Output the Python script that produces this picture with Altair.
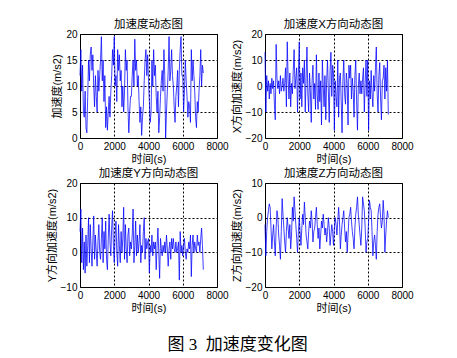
import altair as alt
import pandas as pd

# sample times (s), one value every 50 s from 0 to 7200
time_s = [i * 50 for i in range(145)]

acc_total = [
    12, 17, 9, 14, 5, 4, 9, 2, 1, 8, 15, 11, 16, 17.5, 13, 16, 10, 6, 12, 8,
    5, 13, 9, 12, 15, 19.5, 11, 15, 7, 12, 2, 6, 1.5, 5, 8, 4, 9, 12, 17, 14,
    19.5, 10, 12, 7, 17, 13, 16, 11, 13, 6, 10, 5, 9, 17, 13, 15, 6, 1, 5, 8,
    8, 12, 15, 10, 19, 13, 15, 10, 12, 7, 3, 6, 0.5, 4, 6, 11, 15, 17, 12, 16,
    11, 7, 3, 5, 15, 10, 17, 12, 14, 8, 5, 9, 1, 4, 8, 11, 13, 9, 17, 12,
    0, 5, 9, 13, 19.5, 11, 13, 17, 12, 10, 6, 3, 8, 10, 13, 6, 13, 17, 19.5, 12,
    12, 5, 9, 15, 11, 8, 4, 7, 6, 3, 17, 11, 15, 12, 9, 4, 2, 7, 5, 9,
    12, 17, 10, 14, 12.5,
]

acc_x = [
    13, -10, 4, -2, 2, -5, 1, -3, 3, -1, 2, -7, -13, 16, 3, -1, 2, -3, 4, -2,
    0, 3, -2, 1, 7, -8, 17, 3, -5, 5, -8, 1, -3, 6, 14, -1, 3, 7, -10, 5,
    17, -5, 5, -8, 7, 1, 10, -10, 3, 15, -3, -10, 5, -2, -14, 2, 8, -5, 1, -9,
    12, -3, -9, 5, -6, 2, -15, 10, 0, -8, 4, -13, 2, 10, -2, -14, 6, 13, -4, 8,
    5, -17, 2, -4, -8, 10, -12, 3, 5, -6, -18, 2, 10, -3, -7, 5, 1, -15, 8, 3,
    8, -5, 3, -2, -12, 4, 10, -6, -17, 0, 5, -3, 2, -3, 3, 7, -10, 1, 10, -4,
    10, -17, 2, -5, 6, -3, -8, 4, -2, 7, 15, -3, -10, 4, 9, -5, -13, 2, 3, 8,
    -5, 7, -2, 10, -11,
]

acc_y = [
    6, 12.5, -3, 7, -5, 3, -6, 5, -4, 2, 10, -3, 8, 1, -4, 3, 10.5, -2, 5, 0,
    -4, 3, 8, 0, -2, 4, 10, -3, 6, 1, 9, -2, -5, 4, 11, 3, -1, 7, 12, 2,
    -3, 5, 9, 0, -4, 8, 2, -3, 6, 0, 4, 13, -2, 8, 1, -3, 5, 7, -1, 3,
    1, 5, 12.5, -3, 2, 9, -1, 5, 0, 3, 8, -3, 2, 0, 6, 10, -2, 4, 1, 3,
    4, -6, 2, 0, 5, -1, 3, 1, 3, -5, 2, 7, 0, -7.5, 4, 1, -1, 2, 0, 3,
    0, 5, 1, -4, 1, 3, -2, 4, 1, 4, 1, 0, 3, 0, 1, 3, -8, 6, 0, 2,
    -1, 2, 4, 0, -2, 1, 0, 3, 1, 5, -7, 2, 5, 0, 3, 1, 0, 5, 2, 3,
    0, 4, 7, 2, -5,
]

acc_z = [
    -2, -11, -4, 0, 2, 4, 3, -3, -9, -5, -2, -7, -11, -3, 2, 0, -5, -8, -12, -4,
    5.5, 1, -3, -7, -10, -4, 0, -3, -6, -2, -9, -5, 3, -1, 6, 2, -2, -6, -10, -4,
    0, -4, -8, -3, 1, -2, 4.5, 0, -5, -7, -9, -4, -1, -3, 2, -1, -7, -4, -3, 0,
    3, -2, -6, -3, -9, -5, -1, -3, 1, -2, -5, -3, -7, -4, 0, -3, -8, -5, -2, -4,
    -8, -3, 0, -2, -5, -1, 3, -1, -9, -5, -2, 0, 2, -3, -7, -4, -10, -5, 0, 1,
    3, -1, -4, -6, -9, -3, 1, 3, 6, 1, -2, -5, -8, -3, 6, 4, 2, -3, -10, -7,
    -6, -1, 5, 3, 2, -4, -11, -7, -5, -8, -12, -4, 1, 3, 4, 0, -3, -1, 5, 1,
    -10, -5, -1, 2, 0,
]

x_ticks = [0, 2000, 4000, 6000, 8000]
titles = ["加速度动态图", "加速度X方向动态图", "加速度Y方向动态图", "加速度Z方向动态图"]
y_titles = ["加速度(m/s2)", "X方向加速度(m/s2)", "Y方向加速度(m/s2)", "Z方向加速度(m/s2)"]
y_domains = [[0, 20], [-20, 20], [-10, 20], [-20, 10]]
y_ticks = [[0, 5, 10, 15, 20], [-20, -10, 0, 10, 20], [-10, 0, 10, 20], [-20, -10, 0, 10]]
x_title = "时间(s)"
caption = "图 3\u00a0 加速度变化图"

FONT = "Liberation Sans, Noto Sans CJK SC"


def panel(vals, title, ytitle, ydom, yt):
    df = pd.DataFrame({"t": time_s, "v": vals})
    return (
        alt.Chart(df, title=alt.TitleParams(title, fontSize=11.5, fontWeight="normal",
                                            font=FONT, color="black", offset=-1))
        .mark_line(color="#0000ff", strokeWidth=0.75)
        .encode(
            x=alt.X("t:Q", scale=alt.Scale(domain=[0, 8000], nice=False, zero=False),
                    axis=alt.Axis(values=x_ticks, format="d", title=x_title,
                                  titlePadding=2, labelFlush=False)),
            y=alt.Y("v:Q", scale=alt.Scale(domain=ydom, nice=False, zero=False),
                    axis=alt.Axis(values=yt, format="d", title=ytitle,
                                  titlePadding=3, labelFlush=False)),
        )
        .properties(width=137, height=104)
    )


series = [acc_total, acc_x, acc_y, acc_z]
panels = [panel(series[i], titles[i], y_titles[i], y_domains[i], y_ticks[i]) for i in range(4)]

chart = (
    alt.concat(*panels, columns=2, spacing={"row": 45, "column": 48}, bounds="flush")
    .properties(
        title=alt.TitleParams(caption, orient="bottom", fontSize=17, fontWeight="normal",
                              font="Liberation Serif, Noto Sans CJK SC", color="black",
                              offset=23, anchor="middle", dx=8),
        padding={"left": 37, "top": 10, "right": 5, "bottom": 5},
        background="white",
    )
    .configure_view(stroke="black", strokeWidth=1)
    .configure_axis(
        domain=False, ticks=False, grid=True, gridColor="black", gridDash=[2, 2],
        gridOpacity=1, gridWidth=1, labelFont="Liberation Sans", labelFontSize=10,
        labelColor="black", labelPadding=3, titleFont=FONT, titleFontSize=11,
        titleFontWeight="normal", titleColor="black",
    )
)

chart.save("out.html", embed_options={"renderer": "svg", "actions": False})
